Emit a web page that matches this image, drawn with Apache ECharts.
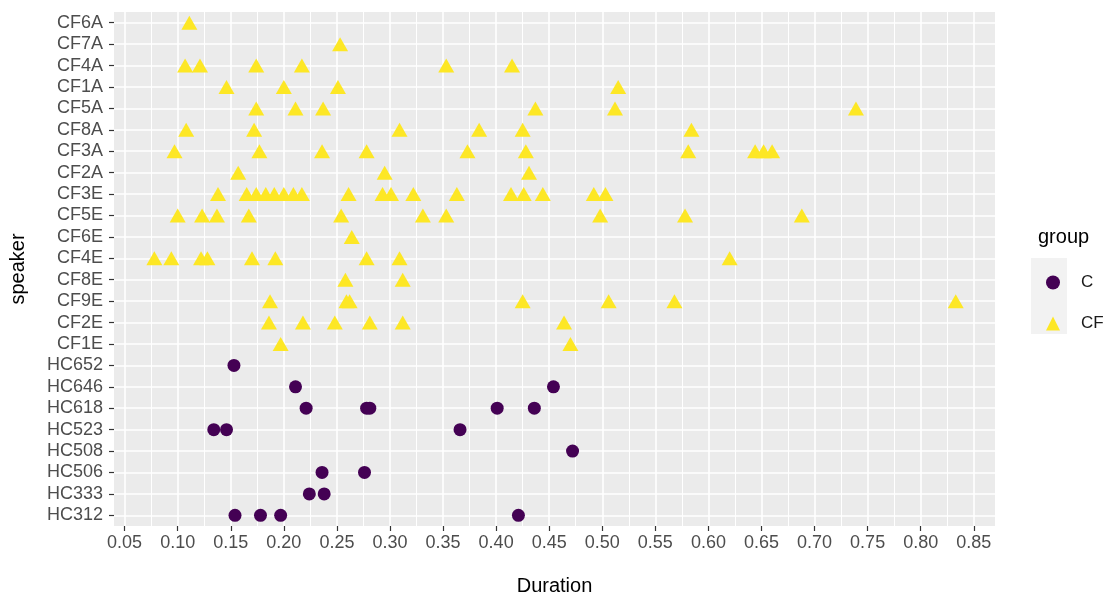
<!DOCTYPE html>
<html>
<head>
<meta charset="utf-8">
<script src="https://cdn.jsdelivr.net/npm/echarts@6/dist/echarts.min.js"></script>
<style>
  html, body { margin: 0; padding: 0; background: #fff; }
  #main { width: 1110px; height: 601px; }
</style>
</head>
<body>
<div id="main"></div>
<script>
// speakers, top to bottom
const speakers = ['CF6A', 'CF7A', 'CF4A', 'CF1A', 'CF5A', 'CF8A', 'CF3A', 'CF2A',
  'CF3E', 'CF5E', 'CF6E', 'CF4E', 'CF8E', 'CF9E', 'CF2E', 'CF1E',
  'HC652', 'HC646', 'HC618', 'HC523', 'HC508', 'HC506', 'HC333', 'HC312']

// group CF : [speaker, durations]
const groupCF = [
  ['CF6A', [0.111]],
  ['CF7A', [0.253]],
  ['CF4A', [0.107, 0.121, 0.174, 0.217, 0.353, 0.415]],
  ['CF1A', [0.146, 0.200, 0.251, 0.515]],
  ['CF5A', [0.174, 0.211, 0.237, 0.437, 0.512, 0.739]],
  ['CF8A', [0.108, 0.172, 0.309, 0.384, 0.425, 0.584]],
  ['CF3A', [0.097, 0.177, 0.236, 0.278, 0.373, 0.428, 0.581, 0.644, 0.652, 0.660]],
  ['CF2A', [0.157, 0.295, 0.431]],
  ['CF3E', [0.138, 0.165, 0.174, 0.183, 0.191, 0.200, 0.209, 0.217, 0.261, 0.293, 0.301, 0.322, 0.363, 0.414, 0.426, 0.444, 0.492, 0.503]],
  ['CF5E', [0.100, 0.123, 0.137, 0.167, 0.254, 0.331, 0.353, 0.498, 0.578, 0.688]],
  ['CF6E', [0.264]],
  ['CF4E', [0.078, 0.094, 0.122, 0.128, 0.170, 0.192, 0.278, 0.309, 0.620]],
  ['CF8E', [0.258, 0.312]],
  ['CF9E', [0.187, 0.259, 0.262, 0.425, 0.506, 0.568, 0.833]],
  ['CF2E', [0.186, 0.218, 0.248, 0.281, 0.312, 0.464]],
  ['CF1E', [0.197, 0.470]]
]

// group C
const groupC = [
  ['HC652', [0.153]],
  ['HC646', [0.211, 0.454]],
  ['HC618', [0.221, 0.278, 0.281, 0.401, 0.436]],
  ['HC523', [0.134, 0.146, 0.366]],
  ['HC508', [0.472]],
  ['HC506', [0.236, 0.276]],
  ['HC333', [0.224, 0.238]],
  ['HC312', [0.154, 0.178, 0.197, 0.421]]
]

const xTicks = [0.05, 0.10, 0.15, 0.20, 0.25, 0.30, 0.35, 0.40, 0.45, 0.50, 0.55, 0.60, 0.65, 0.70, 0.75, 0.80, 0.85]
const xMinor = [0.075, 0.125, 0.175, 0.225, 0.275, 0.325, 0.375, 0.425, 0.475, 0.525, 0.575, 0.625, 0.675, 0.725, 0.775, 0.825]

function toPoints(rows) {
  const out = []
  rows.forEach(r => r[1].forEach(d => out.push([d, r[0]])))
  return out
}

const chart = echarts.init(document.getElementById('main'))
const font = 'Liberation Sans, Arial, sans-serif'

chart.setOption({
  animation: false,
  textStyle: { fontFamily: font },
  title: {
    text: 'group', left: 1033, top: 222,
    textStyle: { fontSize: 20, fontWeight: 'normal', color: '#000', fontFamily: font }
  },
  graphic: [{
    type: 'rect', left: 1031, top: 258,
    shape: { width: 36, height: 76 },
    style: { fill: '#F2F2F2' }, z: 0
  }],
  legend: {
    orient: 'vertical', left: 1041, top: 269,
    itemWidth: 14, itemHeight: 14, itemGap: 24,
    data: [{ name: 'C', icon: 'circle' }, { name: 'CF', icon: 'triangle' }],
    textStyle: { fontSize: 17, color: '#1a1a1a', padding: [0, 0, 0, 16], fontFamily: font }
  },
  grid: {
    left: 110, right: 115, top: 12, bottom: 63,
    show: true, backgroundColor: '#EBEBEB', borderWidth: 0
  },
  xAxis: [{
    type: 'value', min: 0.04, max: 0.87,
    name: 'Duration', nameLocation: 'middle', nameGap: 50,
    nameTextStyle: { fontSize: 20, color: '#000', fontFamily: font },
    axisLine: { show: false },
    axisTick: { show: true, customValues: xTicks, length: 5, lineStyle: { color: '#333', width: 1.2 } },
    axisLabel: {
      customValues: xTicks, formatter: v => v.toFixed(2),
      fontSize: 18, color: '#4D4D4D', margin: 8, fontFamily: font
    },
    splitLine: { show: true, lineStyle: { color: '#fff', width: 1.6 } }
  }, {
    // minor grid lines halfway between the breaks
    type: 'value', min: 0.04, max: 0.87, position: 'top',
    axisLine: { show: false },
    axisTick: { show: true, customValues: xMinor, length: 1, lineStyle: { color: '#fff', opacity: 0 } },
    axisLabel: { show: false, customValues: xMinor },
    splitLine: { show: true, lineStyle: { color: '#fff', width: 1 } }
  }],
  yAxis: {
    type: 'category', data: speakers, inverse: true,
    name: 'speaker', nameLocation: 'middle', nameGap: 86, nameRotate: 90,
    nameTextStyle: { fontSize: 20, color: '#000', fontFamily: font },
    axisLine: { show: false },
    axisTick: { show: true, interval: 0, alignWithLabel: true, length: 5, lineStyle: { color: '#333', width: 1.2 } },
    axisLabel: { interval: 0, fontSize: 18, color: '#4D4D4D', margin: 11, fontFamily: font },
    splitLine: { show: true, interval: 0, alignWithLabel: true, lineStyle: { color: '#fff', width: 1.6 } }
  },
  series: [{
    name: 'C', type: 'scatter', xAxisIndex: 0,
    symbol: 'circle', symbolSize: 13,
    itemStyle: { color: '#440154', opacity: 1 },
    data: toPoints(groupC)
  }, {
    name: 'CF', type: 'scatter', xAxisIndex: 0,
    symbol: 'triangle', symbolSize: [16, 14],
    itemStyle: { color: '#FDE725', opacity: 1 },
    data: toPoints(groupCF)
  }]
})
</script>
</body>
</html>
